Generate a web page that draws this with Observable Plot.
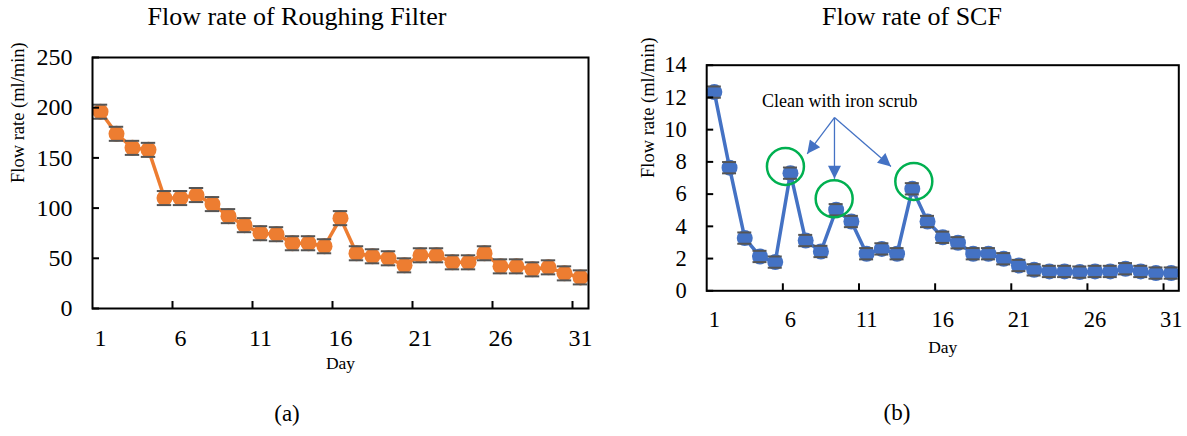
<!DOCTYPE html>
<html><head><meta charset="utf-8">
<script src="https://cdn.jsdelivr.net/npm/d3@7"></script>
<script src="https://cdn.jsdelivr.net/npm/@observablehq/plot@0.6"></script>
<style>
body{margin:0;background:#fff;font-family:"Liberation Serif","Times New Roman",serif;}
#wrap{position:relative;width:1187px;height:436px;overflow:hidden;background:#fff}
.title,.cap{position:absolute;text-align:center;color:#000;white-space:nowrap;line-height:34px}
.panel{position:absolute;top:36px}
</style></head><body><div id="wrap"></div>
<script>
// ---- data ----
const days = d3.range(1, 32);
const roughingFlow = [196,174,160,158,110,110,113,104,92,83,75,74,65,65,62,90,55,52,50,43,53,53,46,46,55,42,42,39,41,35,31];
const roughingErr = 7;
const scfFlow = [12.33,7.64,3.27,2.13,1.78,7.3,3.12,2.44,5.03,4.3,2.3,2.6,2.3,6.33,4.3,3.32,2.98,2.3,2.3,1.99,1.57,1.3,1.2,1.2,1.16,1.2,1.2,1.37,1.2,1.1,1.1];
const scfErr = 0.35;
const dayLabels = [1, 6, 11, 16, 21, 26, 31];
const dayDividers = [5.5, 10.5, 15.5, 20.5, 25.5, 30.5];
const roughingYTicks = [0, 50, 100, 150, 200, 250];
const scfYTicks = [0, 2, 4, 6, 8, 10, 12, 14];
const noteText = [{day: 9.24, flow: 11.76, text: "Clean with iron scrub"}];
const noteArrows = [
  {x1: 8.89, y1: 10.75, x2: 7.1, y2: 8.5},
  {x1: 8.89, y1: 10.75, x2: 8.89, y2: 6.95},
  {x1: 8.89, y1: 10.75, x2: 12.6, y2: 7.72}
];
const noteCircles = [{day: 5.67, flow: 7.72}, {day: 8.87, flow: 5.71}, {day: 14.1, flow: 6.79}];

const roughing = days.map((d, i) => ({day: d, flow: roughingFlow[i], err: roughingErr}));
const scf = days.map((d, i) => ({day: d, flow: scfFlow[i], err: scfErr}));

const wrap = document.getElementById("wrap");

function addDiv(cls, text, left, top, width, size) {
  const el = document.createElement("div");
  el.className = cls;
  el.textContent = text;
  Object.assign(el.style, {left: left + "px", top: top + "px", width: width + "px", fontSize: size + "px"});
  wrap.appendChild(el);
}

function panel({data, color, yTicks, yMax, left, width, mL, mR, mT, mB, height, tickFont, ylabDx, dayDy, capHalf, extra = []}) {
  const svg = Plot.plot({
    width, height,
    marginLeft: mL, marginRight: mR, marginTop: mT, marginBottom: mB,
    style: {fontFamily: '"Liberation Serif","Times New Roman",serif', background: "white", overflow: "visible", color: "black"},
    x: {domain: [0.5, 31.5], label: null},
    y: {domain: [0, yMax], label: null},
    marks: [
      Plot.line(data, {x: "day", y: "flow", stroke: color, strokeWidth: 3.5}),
      Plot.ruleX(data, {x: "day", y1: d => d.flow - d.err, y2: d => d.flow + d.err, stroke: "#555", strokeWidth: 1.5}),
      Plot.dot(data, {x: "day", y: "flow", r: 8, fill: color, stroke: "none"}),
      Plot.ruleY(data, {y: d => d.flow + d.err, x1: d => d.day - capHalf, x2: d => d.day + capHalf, stroke: "#555", strokeWidth: 2}),
      Plot.ruleY(data, {y: d => d.flow - d.err, x1: d => d.day - capHalf, x2: d => d.day + capHalf, stroke: "#555", strokeWidth: 2}),
      ...extra,
      Plot.axisY(yTicks, {tickSize: -7, tickPadding: 27, fontSize: tickFont, label: null, strokeWidth: 2}),
      Plot.axisX(dayLabels, {tickSize: 0, tickPadding: 20, fontSize: tickFont, label: null}),
      Plot.axisX(dayDividers, {tickSize: -7, tickFormat: () => "", label: null, strokeWidth: 2}),
      Plot.frame({stroke: "black", strokeWidth: 2}),
      Plot.text(["Flow rate (ml/min)"], {frameAnchor: "left", rotate: -90, dx: ylabDx, fontSize: 18.5}),
      Plot.text(["Day"], {frameAnchor: "bottom", dy: dayDy, fontSize: 17.5})
    ]
  });
  svg.classList.add("panel");
  svg.style.left = left + "px";
  wrap.appendChild(svg);
  return svg;
}

addDiv("title", "Flow rate of Roughing Filter", 0, 0, 594, 26);
addDiv("title", "Flow rate of SCF", 612, 0, 600, 26);
addDiv("cap", "(a)", 0, 397, 574, 23);
addDiv("cap", "(b)", 597, 396, 600, 23);

panel({data: roughing, color: "#ED7D31", yTicks: roughingYTicks, yMax: 250, left: 0, width: 600,
  mL: 92, mR: 12, mT: 21, mB: 78, height: 350, tickFont: 24, ylabDx: -74, dayDy: 60, capHalf: 0.45});

const svgB = panel({data: scf, color: "#4472C4", yTicks: scfYTicks, yMax: 14, left: 600, width: 587,
  mL: 106.2, mR: 8.7, mT: 28.7, mB: 95.7, height: 350, tickFont: 22.5, ylabDx: -59, dayDy: 62, capHalf: 0.46,
  extra: [
    Plot.dot(noteCircles, {x: "day", y: "flow", r: 18.5, stroke: "#00B050", strokeWidth: 2.5, fill: "none"}),
    Plot.link(noteArrows, {x1: "x1", y1: "y1", x2: "x2", y2: "y2", stroke: "#4472C4", strokeWidth: 1.3}),
    Plot.text(noteText, {x: "day", y: "flow", text: "text", fontSize: 18, fill: "black"})
  ]});

// filled triangular arrowheads like the original
const ns = "http://www.w3.org/2000/svg";
const defs = document.createElementNS(ns, "defs");
const marker = document.createElementNS(ns, "marker");
marker.setAttribute("id", "tri-head");
marker.setAttribute("viewBox", "0 0 10 10");
marker.setAttribute("refX", "10");
marker.setAttribute("refY", "5");
marker.setAttribute("markerWidth", "15");
marker.setAttribute("markerHeight", "13");
marker.setAttribute("markerUnits", "userSpaceOnUse");
marker.setAttribute("orient", "auto");
const mp = document.createElementNS(ns, "path");
mp.setAttribute("d", "M0,0L10,5L0,10z");
mp.setAttribute("fill", "#4472C4");
marker.appendChild(mp);
defs.appendChild(marker);
svgB.insertBefore(defs, svgB.firstChild);
svgB.querySelectorAll('g[aria-label="link"] path').forEach(p => p.setAttribute("marker-end", "url(#tri-head)"));
</script></body></html>
